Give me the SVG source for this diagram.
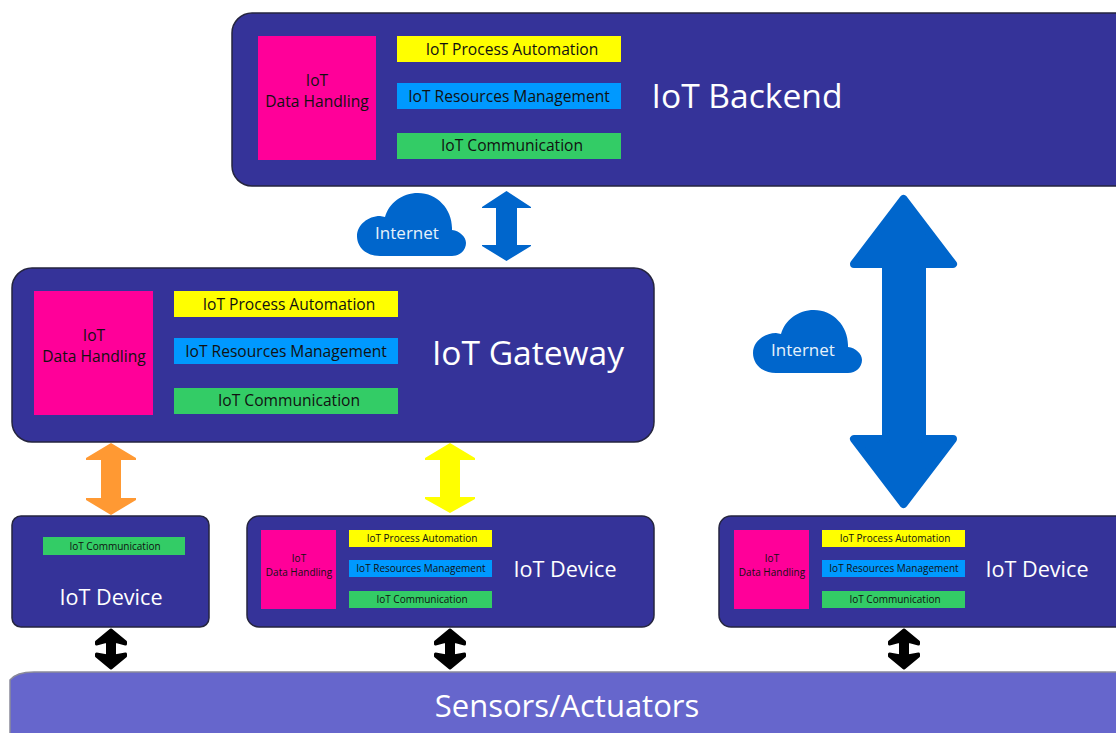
<svg xmlns="http://www.w3.org/2000/svg" width="1116" height="733" viewBox="0 0 1116 733">
<style>
text{font-family:"Open Sans","Noto Sans","Liberation Sans",sans-serif;text-anchor:middle}
.box{fill:#353399;stroke:#25253f;stroke-width:1.5}
.pink{fill:#ff0099}.yel{fill:#ffff00}.blu{fill:#0099ff}.grn{fill:#33cc66}
.l{font-size:15.6px;fill:#111}
.s{font-size:10px;fill:#111}
.t1{font-size:33.6px;fill:#fff}
.t2{font-size:21.6px;fill:#fff}
.t3{font-size:31px;fill:#fff}
.net{font-size:17px;fill:#e6f2fb}
.cloud{fill:#0066cc}
.blk{fill:#000;stroke:#000;stroke-width:3;stroke-linejoin:round}
</style>
<defs>
<path id="cloud" d="M380 256C366 256 357 247 357 236C357 225 368 216 380 216L385 217C389 203 402 193 418 193C437 193 452 209 452 228V230C460 231 466 237 466 243C466 250 460 256 452 256Z"/>
<path id="blackArrow" d="M0 630L14.500 642V644L3.500 641V656L14.500 654V656L0 668L-14.500 656V654L-3.500 656V641L-14.500 644V642Z"/>
</defs>
<g id="connectors">
<path fill="#0066cc" d="M506.5 191L531 207V208H517V245H531V246L506.5 261L482 246V245H496V208H482V207Z"/>
<path fill="#0066cc" stroke="#0066cc" stroke-width="8" stroke-linejoin="round" d="M903.5 199L953 264H922V439H953L903.5 504L854 439H886V264H854Z"/>
<path fill="#ff9933" d="M111 443L136 458V460H121V498H136V500L111 515L86 500V498H101V460H86V458Z"/>
<path fill="#ffff00" d="M450 443L475 458V460H460V497H475V499L450 513L425 499V497H440V460H425V458Z"/>
<use href="#blackArrow" class="blk" transform="translate(111 0)"/>
<use href="#blackArrow" class="blk" transform="translate(450 0)"/>
<use href="#blackArrow" class="blk" transform="translate(904 0)"/>
</g>
<g id="backend">
<rect class="box" x="232" y="13" width="920" height="173" rx="20"/>
<rect class="pink" x="258" y="36" width="118" height="124"/>
<rect class="yel" x="397" y="36" width="224" height="26"/>
<rect class="blu" x="397" y="83" width="224" height="26"/>
<rect class="grn" x="397" y="133" width="224" height="26"/>
<text class="l" x="317" y="85.500">IoT</text><text class="l" x="317" y="107">Data Handling</text>
<text class="l" x="512" y="55">IoT Process Automation</text>
<text class="l" x="509" y="102">IoT Resources Management</text>
<text class="l" x="512" y="151">IoT Communication</text>
<text class="t1" x="747" y="108">IoT Backend</text>
</g>
<g id="gateway">
<rect class="box" x="12" y="268" width="642" height="174" rx="20"/>
<rect class="pink" x="34" y="291" width="119" height="124"/>
<rect class="yel" x="174" y="291" width="224" height="26"/>
<rect class="blu" x="174" y="338" width="224" height="26"/>
<rect class="grn" x="174" y="388" width="224" height="26"/>
<text class="l" x="94" y="340.500">IoT</text><text class="l" x="94" y="362">Data Handling</text>
<text class="l" x="289" y="310">IoT Process Automation</text>
<text class="l" x="286" y="357">IoT Resources Management</text>
<text class="l" x="289" y="406">IoT Communication</text>
<text class="t1" x="528" y="365">IoT Gateway</text>
</g>
<g id="device1">
<rect class="box" x="12" y="516" width="197" height="111" rx="9"/>
<rect class="grn" x="43" y="537" width="142" height="18"/>
<text class="s" x="115" y="550">IoT Communication</text>
<text class="t2" x="111" y="605">IoT Device</text>
</g>
<g id="device2">
<rect class="box" x="247" y="516" width="407" height="111" rx="12"/>
<rect class="pink" x="261" y="530" width="75" height="79"/>
<rect class="yel" x="349" y="530" width="143" height="17"/>
<rect class="blu" x="349" y="560" width="143" height="17"/>
<rect class="grn" x="349" y="591" width="143" height="17"/>
<text class="s" x="299" y="561.500">IoT</text><text class="s" x="299" y="575.500">Data Handling</text>
<text class="s" x="422" y="542">IoT Process Automation</text>
<text class="s" x="421" y="572">IoT Resources Management</text>
<text class="s" x="422" y="603">IoT Communication</text>
<text class="t2" x="565" y="577">IoT Device</text>
</g>
<g id="device3">
<rect class="box" x="719" y="516" width="420" height="111" rx="12"/>
<rect class="pink" x="734" y="530" width="75" height="79"/>
<rect class="yel" x="822" y="530" width="143" height="17"/>
<rect class="blu" x="822" y="560" width="143" height="17"/>
<rect class="grn" x="822" y="591" width="143" height="17"/>
<text class="s" x="772" y="561.500">IoT</text><text class="s" x="772" y="575.500">Data Handling</text>
<text class="s" x="895" y="542">IoT Process Automation</text>
<text class="s" x="894" y="572">IoT Resources Management</text>
<text class="s" x="895" y="603">IoT Communication</text>
<text class="t2" x="1037" y="577">IoT Device</text>
</g>
<g id="sensors">
<path d="M10 740V680C14 675 22 672 34 672H1130V740Z" fill="#6666cc" stroke="#8a8a9a" stroke-width="1.500"/>
<text class="t3" x="567" y="717">Sensors/Actuators</text>
</g>
<g id="cloud1">
<use href="#cloud" class="cloud"/>
<text class="net" x="407" y="239">Internet</text>
</g>
<g id="cloud2">
<use href="#cloud" class="cloud" transform="translate(396 117)"/>
<text class="net" x="803" y="356">Internet</text>
</g>
</svg>
